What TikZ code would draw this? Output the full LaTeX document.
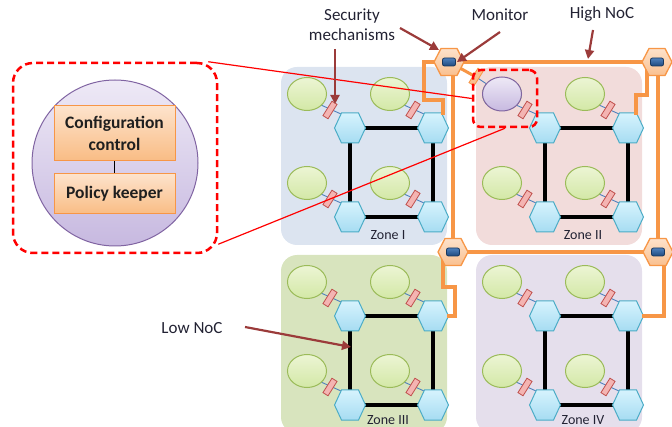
\documentclass[tikz,border=0pt]{standalone}
\usepackage{fontspec}
\setmainfont{Carlito}
\usetikzlibrary{arrows.meta,shapes.geometric}
\definecolor{zoneI}{HTML}{DCE4F0}
\definecolor{zoneII}{HTML}{F2DCDB}
\definecolor{zoneIII}{HTML}{D8E4BE}
\definecolor{zoneIV}{HTML}{E5DFEC}
\definecolor{routert}{HTML}{D6F3FD}
\definecolor{routerbot}{HTML}{A6DCF2}
\definecolor{routerb}{HTML}{4BACC6}
\definecolor{pet}{HTML}{ECF5D4}
\definecolor{pebot}{HTML}{D3E8A6}
\definecolor{peb}{HTML}{9BBB59}
\definecolor{barf}{HTML}{F4B4B2}
\definecolor{barb}{HTML}{C0504D}
\definecolor{orangeline}{HTML}{F79646}
\definecolor{ofill}{HTML}{FAC090}
\definecolor{hext}{HTML}{FDE2CB}
\definecolor{hexbot}{HTML}{FAC08F}
\definecolor{innert}{HTML}{4F81BD}
\definecolor{innerbot}{HTML}{1F497D}
\definecolor{innerb}{HTML}{17375E}
\definecolor{purt}{HTML}{EEE9F6}
\definecolor{purbot}{HTML}{C7B9E0}
\definecolor{purb}{HTML}{8064A2}
\definecolor{boxt}{HTML}{FDE3CC}
\definecolor{boxbot}{HTML}{F9BC84}
\definecolor{arrowc}{HTML}{9B3B3A}
\definecolor{thinblue}{HTML}{4F81BD}
\definecolor{labelc}{HTML}{222233}
\tikzset{
 zonelabel/.style={font=\fontsize{14}{16}\selectfont, text=labelc, inner sep=0pt},
 lbl/.style={font=\fontsize{17}{20}\selectfont, text=labelc, align=center, inner sep=0pt},
 noclink/.style={line width=3.5pt, draw=black},
 pelink/.style={draw=thinblue, line width=0.9pt},
 pestyle/.style={ellipse, draw=peb, line width=1pt, top color=pet, bottom color=pebot, minimum width=39pt, minimum height=33pt, inner sep=0pt},
 monstyle/.style={ellipse, draw=purb, line width=1pt, top color=purt, bottom color=purbot, minimum width=39pt, minimum height=34pt, inner sep=0pt},
 hnoc/.style={line width=4pt, draw=orangeline},
 arr/.style={draw=arrowc, line width=2.2pt, -{Triangle[length=9pt,width=9pt]}},
 reddash/.style={draw=red, line width=2.5pt, dash pattern=on 7pt off 4pt},
 redline/.style={draw=red, line width=1.2pt},
 obox/.style={draw=orangeline, line width=1pt, top color=boxt, bottom color=boxbot, font=\bfseries\fontsize{17.5}{22}\selectfont, text=black!88, align=center, inner sep=0pt},
 router/.pic={\draw[draw=routerb, line width=1pt, top color=routert, bottom color=routerbot] (-15.5,0) -- (-8.5,-15) -- (8.5,-15) -- (15.5,0) -- (8.5,15) -- (-8.5,15) -- cycle;},
 secbar/.pic={\draw[draw=barb, line width=0.8pt, fill=barf, rotate=-32] (-3,-8.5) rectangle (3,8.5);},
 osecbar/.pic={\draw[draw=orangeline, line width=0.8pt, fill=ofill, rotate=-32] (-3,-8.5) rectangle (3,8.5);},
 hnode/.pic={\draw[draw=orangeline, line width=1.3pt, top color=hext, bottom color=hexbot] (-15,0) -- (-8,-13.5) -- (8,-13.5) -- (15,0) -- (8,13.5) -- (-8,13.5) -- cycle;
   \draw[draw=innerb, line width=0.8pt, top color=innert, bottom color=innerbot, rounded corners=2pt] (-6.5,-4) rectangle (6.5,4);}
}
\newcommand\zonedraw[6]{%
\begin{scope}[shift={(#1,#2)}]
\fill[#3, rounded corners=16pt] (0,0) rectangle (166,178);
\foreach \rx/\ry/\i in {69/61/1,152/61/2,69/150/3,152/150/4}{\coordinate (#5r\i) at (\rx,\ry);}
\draw[noclink] (#5r1) -- (#5r2) -- (#5r4) -- (#5r3) -- cycle;
\foreach \rx/\ry/\i in {69/61/1,152/61/2,69/150/3,152/150/4}{%
 \draw[pelink] (\rx-29,\ry-23) -- (\rx-9,\ry-14);
 \node[pestyle] (#5p\i) at (\rx-43,\ry-34) {};
 \pic at (\rx-20,\ry-18) {secbar};
 \pic at (#5r\i) {router};
}
\node[zonelabel] (#5lab) at (107,#6) {#4};
\end{scope}}
\begin{document}
\begin{tikzpicture}[x=1pt,y=-1pt]
\useasboundingbox (0,0) rectangle (672,427);
\clip (0,0) rectangle (672,427);
% zones
\zonedraw{281}{67}{zoneI}{Zone I}{a}{168}
\zonedraw{476}{67}{zoneII}{Zone II}{b}{168}
\zonedraw{281}{255}{zoneIII}{Zone III}{c}{165}
\zonedraw{476}{255}{zoneIV}{Zone IV}{d}{165}
% high NoC
\coordinate (hTL) at (449,62);
\coordinate (hTR) at (657,62);
\coordinate (hML) at (453,252);
\coordinate (hMR) at (658,252);
\coordinate (obar) at (476,77);
\draw[hnoc] (hTL) -- (hTR);
\draw[hnoc] (hML) -- (hMR);
\draw[hnoc] (hTL -| hML) -- (hML);
\draw[hnoc] (hTR -| hMR) -- (hMR);
\draw[hnoc] (hTL) -| (424,100) -| ([xshift=10pt,yshift=13pt]ar2);
\draw[hnoc] ([xshift=-10pt]hTR) |- (636,95) -- ([xshift=8pt,yshift=13pt]br2);
\draw[hnoc] ([xshift=-10pt]hML) |- (455,287) |- ([xshift=14pt]cr2);
\draw[hnoc] ([xshift=6pt]hMR) |- ([xshift=14pt]dr2);
\draw[hnoc, line width=3pt] (hTL) -- (obar);
% monitor
\draw[pelink] (obar) -- (bp1);
\node[monstyle] (mon) at (bp1) {};
\pic at (obar) {osecbar};
\foreach \h in {hTL,hTR,hML,hMR}{\pic at (\h) {hnode};}
% left detail
\node[reddash, rounded corners=20pt, minimum width=204pt, minimum height=190pt] (big) at (115,158) {};
\node[circle, draw=purb, line width=1pt, top color=purt, bottom color=purbot, minimum size=166pt, inner sep=0pt] (pk) at (115,163) {};
\node[obox, minimum width=121pt, minimum height=55pt] (cfg) at (114.5,133.5) {Configuration\\control};
\node[obox, minimum width=121pt, minimum height=40pt] (pol) at (114.5,194) {Policy keeper};
\draw[black, line width=0.8pt] (cfg) -- (pol);
% small dashed box
\node[reddash, rounded corners=8pt, minimum width=64pt, minimum height=57pt] (mbox) at (505,98.5) {};
\draw[redline] ([xshift=-10pt]big.north east) -- (mbox.west);
\draw[redline] ([yshift=10pt]big.south east) -- (mbox.south);
% labels
\node[lbl] (sec) at (352,25) {Security\\mechanisms};
\node[lbl] (monl) at (500,15) {Monitor};
\node[lbl] (high) at (602,14) {High NoC};
\node[lbl] (low) at (192,328) {Low NoC};
\coordinate (s1) at (335,49);
\coordinate (s1e) at (335,104);
\coordinate (s2) at (400,28);
\coordinate (s2e) at (439,50);
\coordinate (m1) at (500,32);
\coordinate (m1e) at (457,62);
\coordinate (h1) at (593,30);
\coordinate (h1e) at (588,59);
\coordinate (l1) at (245,327);
\coordinate (l1e) at (351,347);
\draw[arr] (s1) -- (s1e);
\draw[arr] (s2) -- (s2e);
\draw[arr] (m1) -- (m1e);
\draw[arr] (h1) -- (h1e);
\draw[arr] (l1) -- (l1e);
\end{tikzpicture}
\end{document}
